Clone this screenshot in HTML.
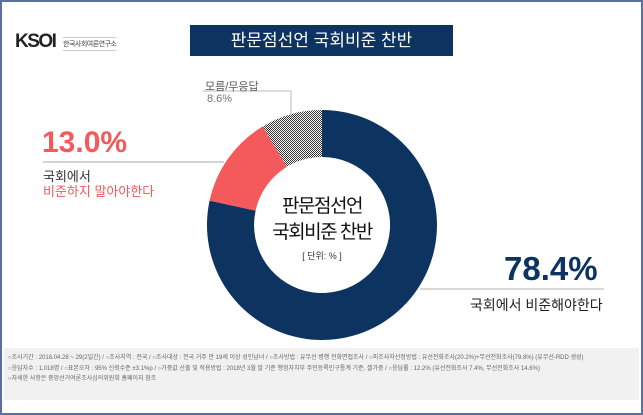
<!DOCTYPE html>
<html><head><meta charset="utf-8"><style>
body{margin:0;width:643px;height:415px;overflow:hidden;background:#fff;font-family:"Liberation Sans","Noto Sans CJK KR",sans-serif}
.frame{position:absolute;left:0;top:0;width:639px;height:411px;border:2px solid #5b6fa3;}
.abs{position:absolute;white-space:nowrap}
</style></head><body>
<div class="frame"></div>
<div class="abs" style="left:15px;top:31px;font-size:19px;font-weight:bold;color:#222;letter-spacing:-1.5px">KSOI</div>
<div class="abs" style="left:63px;top:37px;font-size:7px;color:#444;border-top:1px solid #ccc;border-bottom:1px solid #ccc;padding:1px 0;letter-spacing:-0.5px">한국사회여론연구소</div>
<div class="abs" style="left:190px;top:25px;width:263px;height:31px;background:#0d3461;color:#fff;font-size:17px;line-height:31px;text-align:center">판문점선언 국회비준 찬반</div>
<svg class="abs" style="left:0;top:0" width="643" height="415">
<defs><pattern id="h" width="2" height="2" patternUnits="userSpaceOnUse"><rect width="2" height="2" fill="#fff"/><rect width="1" height="1" fill="#333"/><rect x="1" y="1" width="1" height="1" fill="#333"/></pattern></defs>
<path d="M322,110 A115,115 0 1 1 209.6,200.6 L255.6,210.6 A68,68 0 1 0 322,157 Z" fill="#0d3461"/>
<path d="M209.6,200.6 A115,115 0 0 1 262.8,126.4 L287,166.7 A68,68 0 0 0 255.6,210.6 Z" fill="#f4595b"/>
<path d="M262.8,126.4 A115,115 0 0 1 322,110 L322,157 A68,68 0 0 0 287,166.7 Z" fill="url(#h)"/>
<polyline points="203,91 291,91 291,114" fill="none" stroke="#bbb" stroke-width="1"/>
<line x1="43" y1="162" x2="224" y2="162" stroke="#aaa"/>
<line x1="420" y1="289" x2="604" y2="289" stroke="#ccc" stroke-width="1.5"/>
</svg>
<div class="abs" style="left:205px;top:78px;font-size:11px;color:#555">모름/무응답</div>
<div class="abs" style="left:207px;top:93px;font-size:11px;color:#777">8.6%</div>
<div class="abs" style="left:42px;top:126px;font-size:30px;font-weight:bold;color:#f4595b">13.0%</div>
<div class="abs" style="left:43px;top:166px;font-size:13px;color:#333">국회에서</div>
<div class="abs" style="left:43px;top:181px;font-size:13px;color:#f4595b">비준하지 말아야한다</div>
<div class="abs" style="left:504px;top:250px;font-size:33px;font-weight:bold;color:#0d3461">78.4%</div>
<div class="abs" style="left:470px;top:295px;font-size:14px;color:#222">국회에서 비준해야한다</div>
<div class="abs" style="left:222px;top:194px;width:200px;text-align:center;font-size:19px;color:#111;letter-spacing:-1.5px;line-height:26px">판문점선언<br>국회비준 찬반</div>
<div class="abs" style="left:222px;top:249px;width:200px;text-align:center;font-size:9px;color:#333">[ 단위: % ]</div>
<div class="abs" style="left:4px;top:348px;width:635px;height:52px;background:#f1f1f1"></div>
<div class="abs" style="left:8px;top:353px;font-size:6px;line-height:10.5px;color:#666">
○조사기간 : 2018.04.28 ~ 29(2일간) / ○조사지역 : 전국 / ○조사대상 : 전국 거주 만 19세 이상 성인남녀 / ○조사방법 : 유무선 병행 전화면접조사 / ○피조사자선정방법 : 유선전화조사(20.2%)+무선전화조사(79.8%) (유무선-RDD 생성)<br>
○응답자수 : 1,018명 / ○표본오차 : 95% 신뢰수준 ±3.1%p / ○가중값 산출 및 적용방법 : 2018년 3월 말 기준 행정자치부 주민등록인구통계 기준, 셀가중 / ○응답률 : 12.2% (유선전화조사 7.4%, 무선전화조사 14.6%)<br>
○자세한 사항은 중앙선거여론조사심의위원회 홈페이지 참조</div>
</body></html>
